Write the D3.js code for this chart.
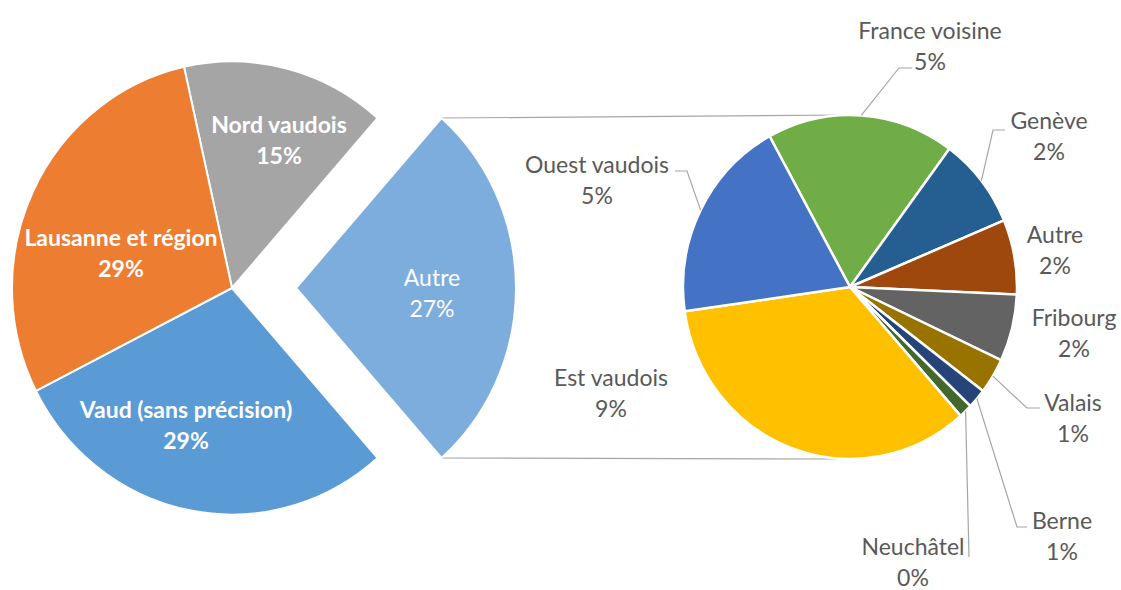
<!DOCTYPE html>
<html>
<head>
<meta charset="utf-8">
<script src="https://cdn.jsdelivr.net/npm/d3@7"></script>
<style>
  body { margin: 0; background: #fff; }
  svg { display: block; }
</style>
</head>
<body>
<svg width="1121" height="590"></svg>
<script>
// main pie
const mainNames = ["Nord vaudois", "Autre", "Vaud (sans précision)", "Lausanne et région"];
const mainValues = [15, 27, 29, 29];
const mainColors = ["#a5a5a5", "#7caddd", "#5b9bd5", "#ed7d31"];

// breakdown of "Autre"
const subNames = ["France voisine", "Genève", "Autre", "Fribourg", "Valais", "Berne", "Neuchâtel", "Est vaudois", "Ouest vaudois"];
const subValues = [4.9, 2.3, 1.9, 1.7, 0.9, 0.5, 0.35, 9.25, 5.2];
const subColors = ["#70ad47", "#255e91", "#9e480e", "#636363", "#997300", "#264478", "#43682b", "#ffc000", "#4472c4"];

const svg = d3.select("svg");
const deg = Math.PI / 180;
const stretch = 1.03; // picture is a bit taller than wide

// layout
const L = { cx: 232, cy: 288, r: 220, explode: 64 };
const R = { cx: 850, cy: 287, r: 167, start: -28.8 };

// label positions (centre x, first baseline)
const mainLabelPos = [[279, 133], [432, 286], [186, 418], [121, 246]];
const subLabelPos = [[930, 39], [1049, 129], [1055, 243], [1074, 326], [1073, 411], [1062, 529], [913, 555], [611, 386], [597, 173]];
// leader lines: elbow and end, null = none
const subLeaders = [
  [[899, 68], [912, 68]],
  [[993, 130], [1005, 130]],
  null, null,
  [[1027, 408], [1040, 408]],
  [[1017, 527], [1027, 527]],
  [[969, 557], [969, 557]],
  null,
  [[687, 171], [675, 171]]
];

const font = "Lato, 'Open Sans', sans-serif";
const lineGap = 31;

// 1. left pie, "Autre" centred on the right side
const total = d3.sum(mainValues);
const mainStart = Math.PI / 2 - (mainValues[0] + mainValues[1] / 2) / total * 2 * Math.PI;
const mainPie = d3.pie().sort(null).startAngle(mainStart).endAngle(mainStart + 2 * Math.PI);
const mainArcs = mainPie(mainValues);
const mainArc = d3.arc().innerRadius(0).outerRadius(L.r);

function offset(d, i) {
  if (mainNames[i] !== "Autre") return [0, 0];
  const a = (d.startAngle + d.endAngle) / 2;
  return [L.explode * Math.sin(a), -L.explode * Math.cos(a)];
}

// 2. connector lines from the exploded slice to the second pie
const ai = mainNames.indexOf("Autre");
const aArc = mainArcs[ai];
const [ox, oy] = offset(aArc, ai);
const pt = a => [L.cx + ox + L.r * Math.sin(a), L.cy + oy - L.r * stretch * Math.cos(a)];
const p1 = pt(aArc.startAngle), p2 = pt(aArc.endAngle);
svg.append("g")
  .selectAll("line")
  .data([[p1, [R.cx, R.cy - R.r * stretch]], [p2, [R.cx, R.cy + R.r * stretch]]])
  .enter()
  .append("line")
  .attr("x1", d => d[0][0]).attr("y1", d => d[0][1])
  .attr("x2", d => d[1][0]).attr("y2", d => d[1][1])
  .attr("stroke", "#a6a6a6")
  .attr("stroke-width", 1.2);

svg.append("g")
  .selectAll("path")
  .data(mainArcs)
  .enter()
  .append("path")
  .attr("transform", (d, i) => {
    const o = offset(d, i);
    return `translate(${L.cx + o[0]},${L.cy + o[1]}) scale(1,${stretch})`;
  })
  .attr("d", mainArc)
  .attr("fill", (d, i) => mainColors[i])
  .attr("stroke", "#fff")
  .attr("stroke-width", 2)
  .attr("vector-effect", "non-scaling-stroke");

const mainText = svg.append("g")
  .selectAll("text")
  .data(mainArcs)
  .enter()
  .append("text")
  .attr("text-anchor", "middle")
  .attr("font-family", font)
  .attr("font-size", 23)
  .attr("font-weight", (d, i) => mainNames[i] === "Autre" ? "normal" : "bold")
  .attr("fill", "#fff");
mainText.append("tspan")
  .attr("x", (d, i) => mainLabelPos[i][0])
  .attr("y", (d, i) => mainLabelPos[i][1])
  .text((d, i) => mainNames[i]);
mainText.append("tspan")
  .attr("x", (d, i) => mainLabelPos[i][0])
  .attr("y", (d, i) => mainLabelPos[i][1] + lineGap)
  .text((d, i) => Math.round(d.value / total * 100) + "%");

// 3. right pie
const subPie = d3.pie().sort(null).startAngle(R.start * deg).endAngle(R.start * deg + 2 * Math.PI);
const subArcs = subPie(subValues);
const subArc = d3.arc().innerRadius(0).outerRadius(R.r);

svg.append("g")
  .attr("transform", `translate(${R.cx},${R.cy}) scale(1,${stretch})`)
  .selectAll("path")
  .data(subArcs)
  .enter()
  .append("path")
  .attr("d", subArc)
  .attr("fill", (d, i) => subColors[i])
  .attr("stroke", "#fff")
  .attr("stroke-width", 2.5)
  .attr("vector-effect", "non-scaling-stroke");

// leader lines
svg.append("g")
  .selectAll("polyline")
  .data(subArcs.filter((d, i) => subLeaders[i]))
  .enter()
  .append("polyline")
  .attr("points", d => {
    const i = d.index;
    const a = (d.startAngle + d.endAngle) / 2;
    const s = [R.cx + R.r * Math.sin(a), R.cy - R.r * stretch * Math.cos(a)];
    return [s, subLeaders[i][0], subLeaders[i][1]].map(p => p.join(",")).join(" ");
  })
  .attr("fill", "none")
  .attr("stroke", "#a6a6a6")
  .attr("stroke-width", 1.2);

const subText = svg.append("g")
  .selectAll("text")
  .data(subArcs)
  .enter()
  .append("text")
  .attr("text-anchor", "middle")
  .attr("font-family", font)
  .attr("font-size", 23)
  .attr("fill", "#595959");
subText.append("tspan")
  .attr("x", (d, i) => subLabelPos[i][0])
  .attr("y", (d, i) => subLabelPos[i][1])
  .text((d, i) => subNames[i]);
subText.append("tspan")
  .attr("x", (d, i) => subLabelPos[i][0])
  .attr("y", (d, i) => subLabelPos[i][1] + lineGap)
  .text(d => Math.round(d.value) + "%");
</script>
</body>
</html>
